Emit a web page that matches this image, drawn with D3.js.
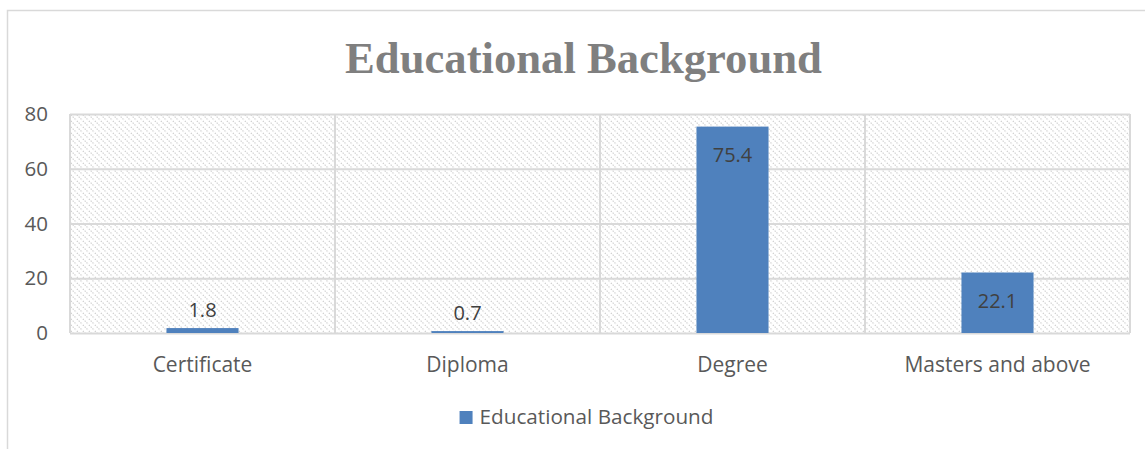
<!DOCTYPE html>
<html>
<head>
<meta charset="utf-8">
<script src="https://cdn.jsdelivr.net/npm/d3@7"></script>
<style>
  html, body { margin: 0; padding: 0; background: #fff; }
  svg { display: block; }
</style>
</head>
<body>
<svg id="chart" width="1145" height="449"></svg>
<script>
// Data
const categories = ["Certificate", "Diploma", "Degree", "Masters and above"];
const values = [1.8, 0.7, 75.4, 22.1];
const yTicks = [0, 20, 40, 60, 80];
const seriesName = "Educational Background";
const chartTitle = "Educational Background";

const W = 1145, H = 449;
const margin = { left: 70, right: 15, top: 114, bottom: 116 };
const plotW = W - margin.left - margin.right;
const plotH = H - margin.top - margin.bottom;

const labelFont = "'Open Sans', 'Noto Sans', sans-serif";
const svg = d3.select("#chart");

// Diagonal dotted hatch for the plot background
const defs = svg.append("defs");
const pat = defs.append("pattern")
  .attr("id", "hatch")
  .attr("patternUnits", "userSpaceOnUse")
  .attr("width", 6).attr("height", 6);
pat.append("path")
  .attr("d", "M-1,-1 L7,7 M-1,5 L1,7 M5,-1 L7,1")
  .attr("stroke", "#cccccc")
  .attr("stroke-width", 1.2)
  .attr("stroke-dasharray", "1.3,1.3")
  .attr("fill", "none");

// Chart frame
svg.append("rect")
  .attr("x", 7.5).attr("y", 10.5)
  .attr("width", 1170).attr("height", 470)
  .attr("fill", "none")
  .attr("stroke", "#d9d9d9")
  .attr("stroke-width", 1.5);

const x = d3.scaleBand().domain(categories).range([0, plotW]).paddingInner(0).paddingOuter(0);
const y = d3.scaleLinear().domain([0, 80]).range([plotH, 0]);

const g = svg.append("g").attr("transform", `translate(${margin.left},${margin.top})`);

// Plot background
g.append("rect")
  .attr("x", 0).attr("y", 0)
  .attr("width", plotW).attr("height", plotH)
  .attr("fill", "url(#hatch)");

// Horizontal gridlines
g.append("g")
  .call(d3.axisLeft(y).tickValues(yTicks).tickSize(-plotW).tickFormat(""))
  .call(s => s.select(".domain").remove())
  .call(s => s.selectAll("line").attr("stroke", "#d9d9d9").attr("stroke-width", 2));

// Vertical category separators
const bounds = categories.map(c => x(c)).concat([plotW]);
g.append("g").selectAll("line")
  .data(bounds)
  .join("line")
  .attr("x1", d => d).attr("x2", d => d)
  .attr("y1", 0).attr("y2", plotH)
  .attr("stroke", "#d9d9d9")
  .attr("stroke-width", 2);

// Y axis labels
g.append("g")
  .call(d3.axisLeft(y).tickValues(yTicks).tickSize(0).tickPadding(22))
  .call(s => s.select(".domain").remove())
  .call(s => s.selectAll("text")
    .attr("font-family", labelFont)
    .attr("font-size", 20.5)
    .attr("fill", "#595959"));

// Bars
const barW = x.bandwidth() * 0.272;
g.selectAll(".bar")
  .data(values)
  .join("rect")
  .attr("class", "bar")
  .attr("x", (d, i) => x(categories[i]) + x.bandwidth() / 2 - barW / 2)
  .attr("y", d => y(d))
  .attr("width", barW)
  .attr("height", d => plotH - y(d))
  .attr("fill", "#4f81bd");

// Value labels: inside the bar top when there is room, above otherwise
g.selectAll(".val")
  .data(values)
  .join("text")
  .attr("class", "val")
  .attr("x", (d, i) => x(categories[i]) + x.bandwidth() / 2)
  .attr("y", d => (plotH - y(d) > 40) ? y(d) + 35 : y(d) - 11)
  .attr("text-anchor", "middle")
  .attr("font-family", labelFont)
  .attr("font-size", 20)
  .attr("fill", "#404040")
  .text(d => d);

// Category labels
g.append("g")
  .attr("transform", `translate(0,${plotH})`)
  .call(d3.axisBottom(x).tickSize(0).tickPadding(24))
  .call(s => s.select(".domain").remove())
  .call(s => s.selectAll("text")
    .attr("font-family", labelFont)
    .attr("font-size", 21)
    .attr("fill", "#595959"));

// Title
const title = svg.append("text")
  .attr("x", 583.5).attr("y", 73)
  .attr("text-anchor", "middle")
  .attr("font-family", "'Liberation Serif', 'DejaVu Serif', serif")
  .attr("font-weight", "bold")
  .attr("font-size", 44)
  .attr("fill", "#7f7f7f")
  .text(chartTitle);
const tw = title.node().getComputedTextLength();
title.attr("font-size", 44 * 477 / tw);

// Legend
const legend = svg.append("g");
const lgText = legend.append("text")
  .attr("x", 20).attr("y", 7)
  .attr("font-family", labelFont)
  .attr("font-size", 20.7)
  .attr("fill", "#595959")
  .text(seriesName);
legend.append("rect")
  .attr("x", 0).attr("y", -6)
  .attr("width", 13).attr("height", 13)
  .attr("fill", "#4f81bd");
const lw = 20 + lgText.node().getComputedTextLength();
legend.attr("transform", `translate(${586.5 - lw / 2},${417})`);
</script>
</body>
</html>
